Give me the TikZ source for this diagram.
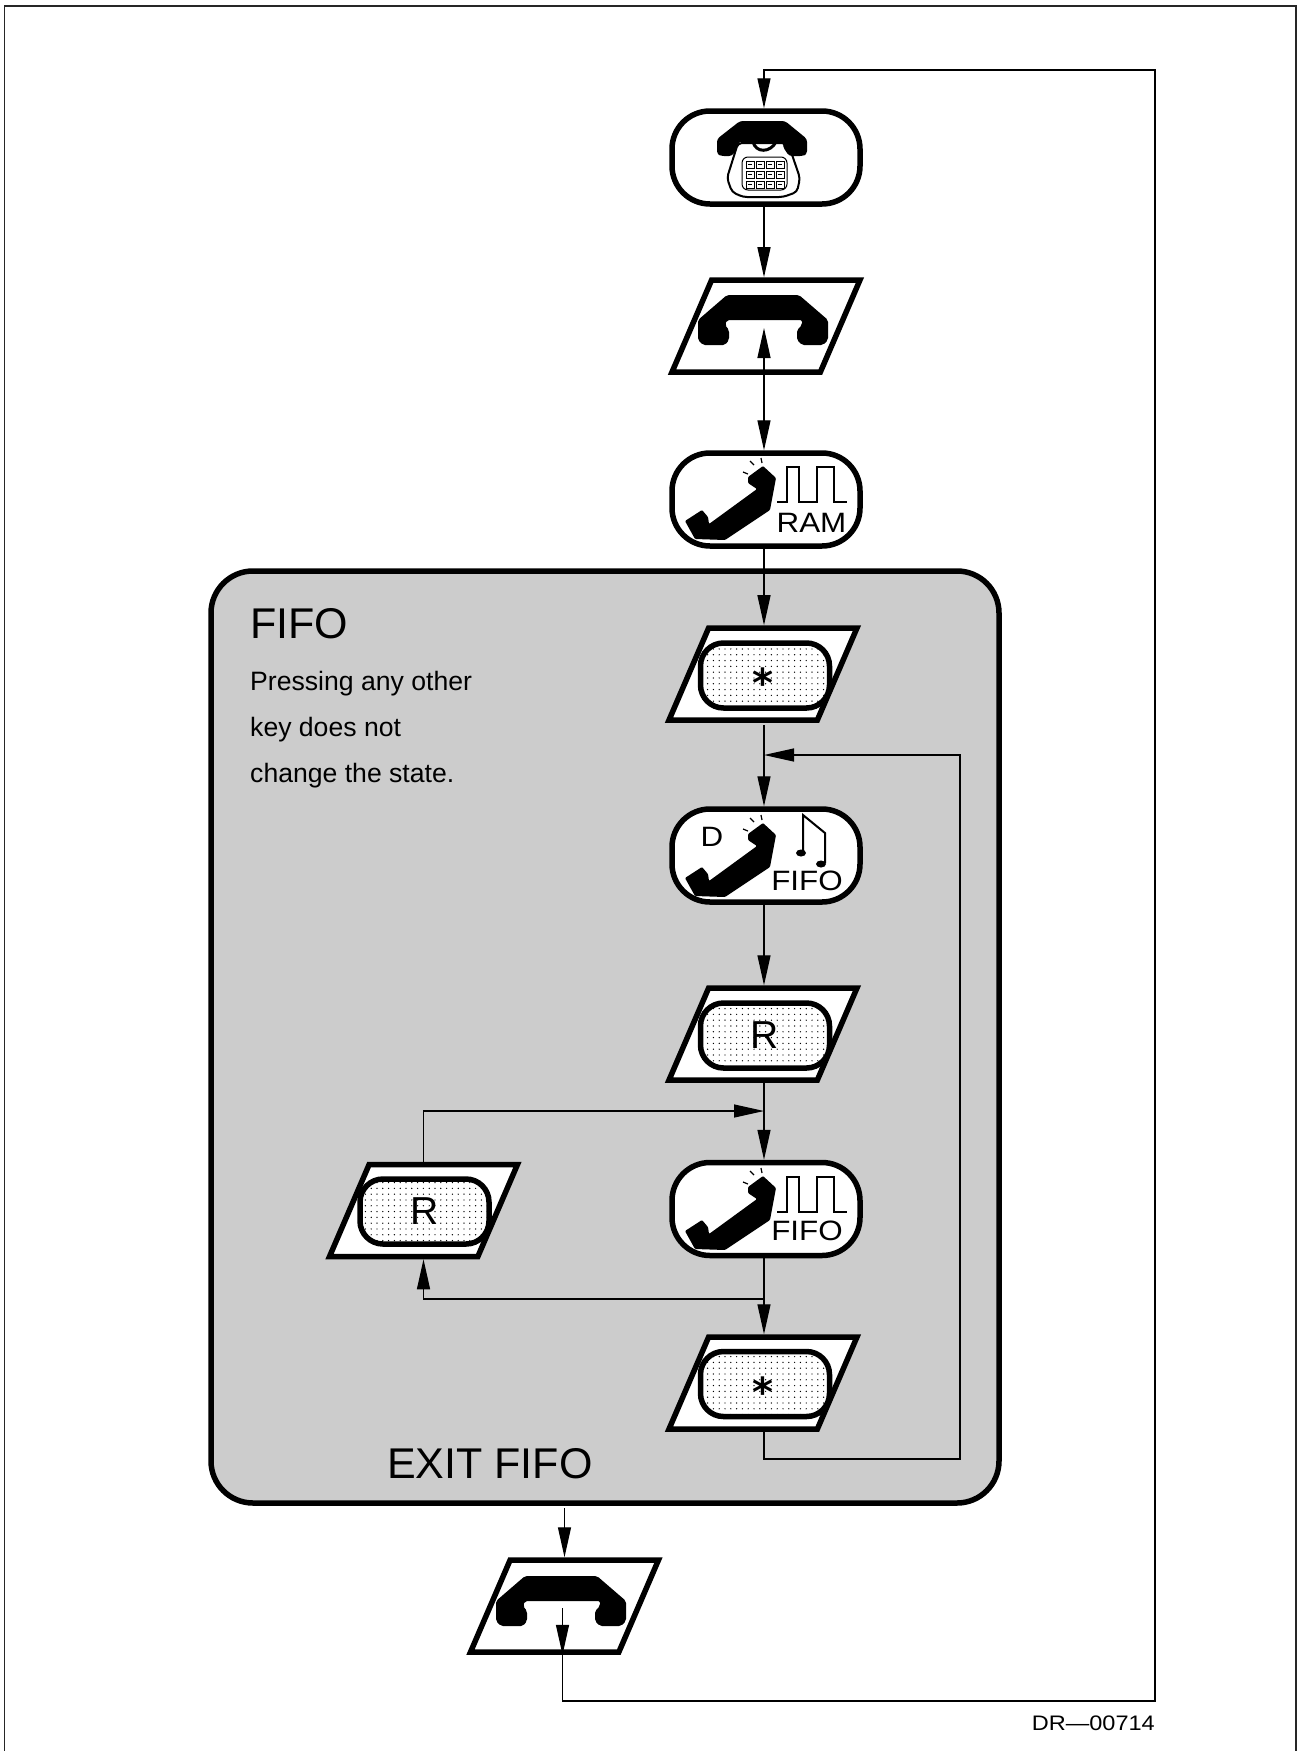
\documentclass[tikz,border=0pt]{standalone}
\usepackage{fontspec}
\setmainfont{Liberation Sans}
\newfontfamily\iconfont[FakeStretch=1.12]{Liberation Sans}
\newfontfamily\starfont{DejaVu Sans}
\usetikzlibrary{arrows.meta, patterns.meta, positioning, shapes.geometric}
\newcommand{\fsz}[1]{\fontsize{#1}{#1}\selectfont}

\begin{document}
\begin{tikzpicture}[x=1pt,y=-1pt,
    >={Triangle[length=30pt,width=13pt]},
    conn/.style={line width=1.3pt},
    term/.style={draw,line width=5.5pt,fill=white,rounded corners=38pt,minimum width=188pt,minimum height=93pt,inner sep=0pt},
    para/.style={draw,line width=5.5pt,fill=white,shape=trapezium,trapezium left angle=70,trapezium right angle=110,trapezium stretches=true,minimum width=188pt,minimum height=92pt,inner sep=2pt},
    keycap/.style={draw,line width=5.5pt,fill=white,rounded corners=23pt,minimum width=129pt,minimum height=65pt,inner sep=0pt,
      postaction={pattern={Dots[radius=.7pt,distance=5.8pt]},pattern color=black},font=\fsz{39}},
    iconlbl/.style={inner sep=0pt,font=\iconfont\fsz{28}},
    starlbl/.style={inner sep=0pt,anchor=base,font=\starfont\bfseries\fsz{40}},
    boxlbl/.style={inner sep=0pt,anchor=base west},
    handset/.pic={\fill[rounded corners=2pt] (-37,-25) -- (35,-25) -- (64,0) -- (64,20) -- (59,25) -- (38,25) -- (33,20) -- (33,10) -- (38,5) -- (38,0) -- (-37,0) -- (-39,5) -- (-35,10) -- (-35,20) -- (-39,25) -- (-61,25) -- (-66,20) -- (-66,0) -- cycle;},
    tilted/.pic={\fill[rounded corners=1pt] (-1,-34) -- (12,-22) -- (6,10) -- (-39,40) -- (-69,39) -- (-79,21) -- (-62,10) -- (-56,17) -- (-55,24) -- (-7,-11) -- (-16,-17) -- (-16,-23) -- cycle;
      \draw[line width=1.2pt] (-21,-28) -- (-16,-26) (-14,-39) -- (-10,-35) (-3,-42) -- (-2,-37);},
    pulses/.pic={\draw[line width=2.5pt] (13,2) -- (23,2) -- (23,-33) -- (35,-33) -- (35,2) -- (53,2) -- (53,-33) -- (70,-33) -- (70,2) -- (83,2);},
    deskset/.pic={\draw[line width=2pt,fill=white,rounded corners=4pt] (-26,-14) -- (-37,21) -- (-32,35) -- (-21,40) -- (19,40) -- (33,35) -- (36,21) -- (24,-14) -- cycle;
      \fill[rounded corners=3pt] (-24,-36) -- (21,-36) -- (43,-18) -- (43,-3) -- (39,-1) -- (25,-1) -- (19,-10) -- (19,-15) -- (-26,-15) -- (-26,-10) -- (-32,-1) -- (-43,-1) -- (-47,-3) -- (-47,-18) -- cycle;
      \draw[line width=3pt] (-11,-15) .. controls (-8,-4) and (6,-4) .. (12,-15);
      \draw[line width=1pt,rounded corners=6pt] (-22,0) rectangle (23,33);
      \foreach \i in {-18,-8,2,12} \foreach \j in {4,14,24} {
        \draw[line width=1pt] (\i,\j) rectangle +(8,7);
        \draw[line width=1.2pt] (\i+2,\j+3.5) -- +(4,0);
      }}]
  \useasboundingbox (0,0) rectangle (1298,1751);
  \fill[white] (0,0) rectangle (1298,1751);
  \draw[line width=1.5pt,black!85] (4.5,1751) -- (4.5,6) -- (1296,6) -- (1296,1751);
  % FIFO box
  \draw (605,1037) node[draw,line width=5.5pt,fill=black!20,rounded corners=42pt,minimum width=788pt,minimum height=932pt](box_fifo){};
  \draw (250,638) node[boxlbl,font=\fsz{43}](lbl_fifo){FIFO};
  \draw (250,690.5) node[boxlbl,font=\fsz{26.6}](lbl_n1){Pressing any other};
  \draw (250,736.5) node[boxlbl,font=\fsz{26.6}](lbl_n2){key does not};
  \draw (250,782.5) node[boxlbl,font=\fsz{26.6}](lbl_n3){change the state.};
  \draw (387,1478) node[boxlbl,font=\fsz{43}](lbl_exit){EXIT FIFO};
  % States and keys
  \draw (766,157.5) node[term](ph_ring){};
  \draw (766,326) node[para](ph_up){};
  \draw (766,499.5) node[term](ph_ram){};
  \draw (763,674) node[para](key_s1){};
  \draw (766,855.5) node[term](ph_dfifo){};
  \draw (763,1034) node[para](key_r1){};
  \draw (766,1209) node[term](ph_fifo){};
  \draw (763,1383) node[para](key_s2){};
  \draw (423.5,1210.5) node[para](key_r2){};
  \draw (564.5,1606) node[para](ph_down){};
  \draw (765,675.5) node[keycap](cap_s1){};
  \draw (765,1035.5) node[keycap](cap_r1){R};
  \draw (765,1384) node[keycap](cap_s2){};
  \draw (424.5,1211.5) node[keycap](cap_r2){R};
  \draw (763,697) node[starlbl](lbl_s1){*};
  \draw (763,1406) node[starlbl](lbl_s2){*};
  % Icons
  \pic at (764,157) {deskset};
  \pic at (764,320) {handset};
  \pic at (562,1601) {handset};
  \pic at (764,500) {tilted};
  \pic at (764,500) {pulses};
  \pic at (764,857) {tilted};
  \pic at (764,1210) {tilted};
  \pic at (764,1210) {pulses};
  \draw (811.5,523) node[iconlbl](lbl_ram){RAM};
  \draw (712,837) node[iconlbl](lbl_d){D};
  \draw (807,881) node[iconlbl](lbl_f1){FIFO};
  \draw (807,1231) node[iconlbl](lbl_f2){FIFO};
  \draw[line width=2pt] (803,852) -- (803,815) -- (825,833) -- (825,863);
  \fill (801,853) ellipse (5 and 3.5) (821,864) ellipse (5 and 3.5);
  % Connectors
  \coordinate (stem) at (764,0);
  \coordinate (up_in) at (764,328);
  \coordinate (s1_out) at (764,725);
  \coordinate (jn_a) at (764,755);
  \coordinate (jn_c) at (764,1111);
  \coordinate (jn_b) at (764,1299);
  \coordinate (loop_b) at (960,1459);
  \coordinate (loop_t) at (960,755);
  \coordinate (box_out) at (564.5,1508);
  \coordinate (down_in) at (562.5,1608);
  \coordinate (ret_b) at (1155,1701);
  \coordinate (ret_t) at (1155,70);
  \draw[conn,->] (ph_ring.south -| stem) -- (ph_up.north -| stem);
  \draw[conn,<->] (up_in) -- (ph_ram.north -| stem);
  \draw[conn,->] (ph_ram.south -| stem) -- (key_s1.north -| stem);
  \draw[conn,->] (s1_out) -- (ph_dfifo.north -| stem);
  \draw[conn,->] (ph_dfifo.south -| stem) -- (key_r1.north -| stem);
  \draw[conn,->] (key_r1.south -| stem) -- (ph_fifo.north -| stem);
  \draw[conn,->] (ph_fifo.south -| stem) -- (key_s2.north -| stem);
  \draw[conn,->] (key_s2.south -| stem) |- (loop_b) -- (loop_t) -- (jn_a);
  \draw[conn,->] (key_r2) |- (jn_c);
  \draw[conn,->] (jn_b) -| (key_r2);
  \draw[conn,->] (box_out) -- (ph_down.north -| box_out);
  \draw[conn,->] (down_in) -- (ph_down.south -| down_in);
  \draw[conn,->] (ph_down.south -| down_in) |- (ret_b) -- (ret_t) -| (ph_ring.north -| stem);
  \draw (1155,1730) node[inner sep=0pt,anchor=base east,font=\iconfont\fsz{21}](lbl_dr){DR—00714};
\end{tikzpicture}
\end{document}
